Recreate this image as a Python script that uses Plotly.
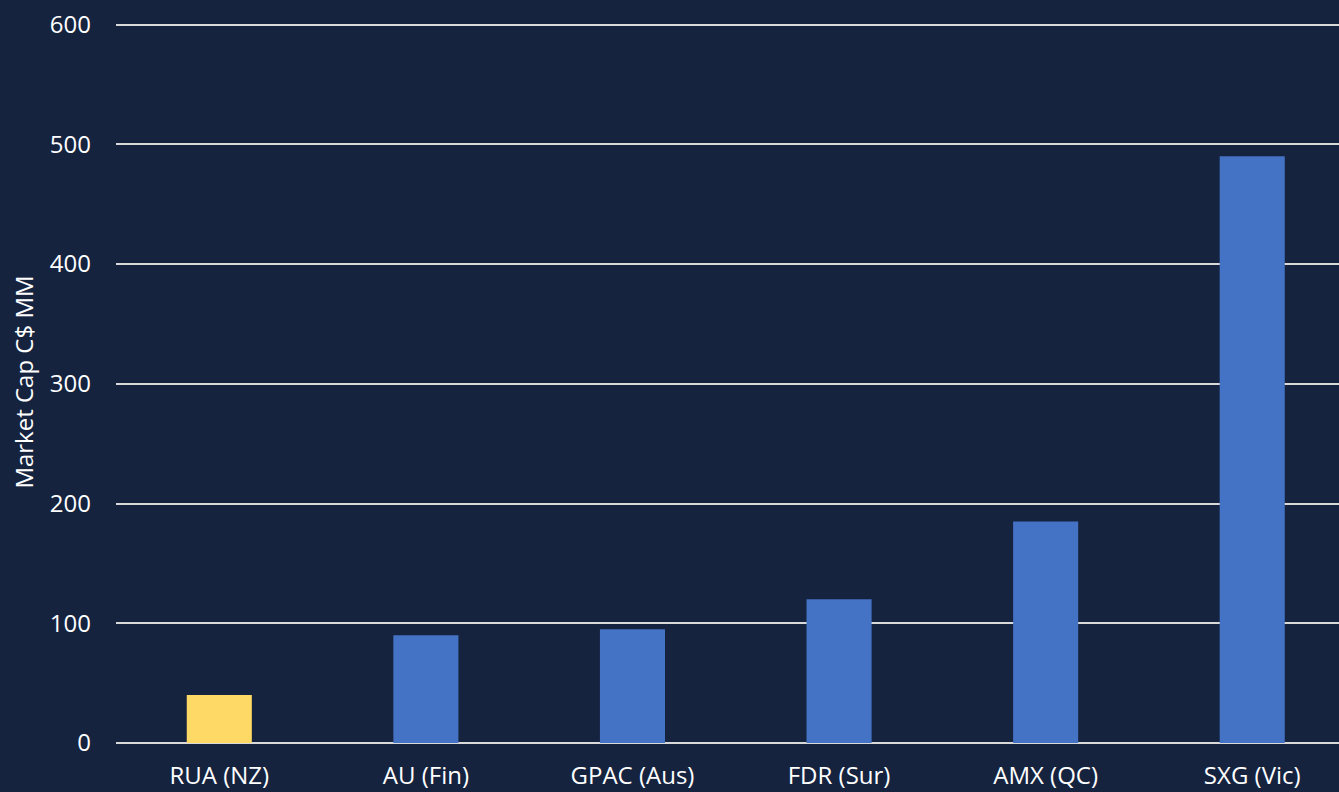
import plotly.graph_objects as go

categories = ["RUA (NZ)", "AU (Fin)", "GPAC (Aus)", "FDR (Sur)", "AMX (QC)", "SXG (Vic)"]
market_cap = [40, 90, 95, 120, 185, 490]
bar_colors = ["#FFD966", "#4472C4", "#4472C4", "#4472C4", "#4472C4", "#4472C4"]
y_ticks = [0, 100, 200, 300, 400, 500, 600]

BG = "#15233F"
FONT = "Open Sans"
FS = 24

fig = go.Figure()
fig.add_trace(go.Bar(
    x=list(range(len(categories))),
    y=market_cap,
    marker=dict(color=bar_colors, line=dict(width=0)),
    width=0.315,
    hoverinfo="x+y",
))

fig.update_layout(
    width=1339, height=792,
    paper_bgcolor=BG, plot_bgcolor=BG,
    margin=dict(l=116, r=0, t=21, b=49),
    font=dict(family=FONT, size=FS, color="#FFFFFF"),
    showlegend=False,
    xaxis=dict(
        tickmode="array",
        tickvals=list(range(len(categories))),
        ticktext=categories,
        range=[-0.5, 5.42],
        showgrid=False, zeroline=False, showline=False,
        ticks="", ticklabelstandoff=16,
        tickfont=dict(family=FONT, size=FS, color="#FFFFFF"),
    ),
    yaxis=dict(
        range=[0, 603],
        tickmode="array",
        tickvals=y_ticks,
        ticktext=[str(v) for v in y_ticks],
        showgrid=True, gridcolor="#D9D9D9", gridwidth=1.5,
        zeroline=True, zerolinecolor="#D9D9D9", zerolinewidth=1.5,
        showline=False, ticks="", ticklabelstandoff=24,
        tickfont=dict(family=FONT, size=FS, color="#FFFFFF"),
        title=dict(text="Market Cap C$ MM", standoff=9,
                   font=dict(family=FONT, size=FS, color="#FFFFFF")),
    ),
)

fig.write_html(
    "out.html",
    config={"displayModeBar": False},
    post_script="document.body.style.margin='0px';document.body.style.background='" + BG + "';",
)
